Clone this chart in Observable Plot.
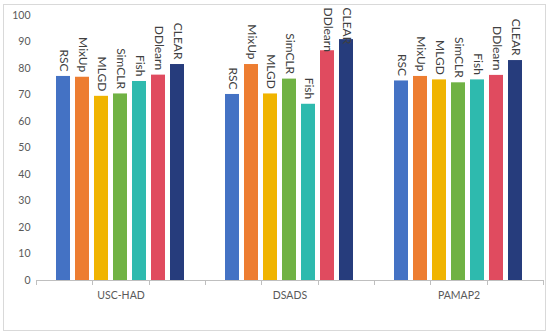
<!DOCTYPE html>
<html>
<head>
<meta charset="utf-8">
<script src="https://cdn.jsdelivr.net/npm/d3@7"></script>
<script src="https://cdn.jsdelivr.net/npm/@observablehq/plot@0.6"></script>
<style>
  body { margin: 0; background: #fff; }
  #wrap { position: relative; width: 550px; height: 336px; }
  #border { position: absolute; left: 3px; top: 4px; width: 541px; height: 325px; border: 1px solid #d9d9d9; pointer-events: none; }
</style>
</head>
<body>
<div id="wrap"><div id="border"></div></div>
<script>
const datasets = ["USC-HAD", "DSADS", "PAMAP2"];
const methods = ["RSC", "MixUp", "MLGD", "SimCLR", "Fish", "DDlearn", "CLEAR"];
const colors = ["#4472C4", "#ED7D31", "#F0B400", "#70B244", "#2EBAAE", "#E04B5F", "#263C7C"];
const uscHad = [77.0, 76.7, 69.5, 70.4, 75.1, 77.5, 81.5];
const dsads  = [70.2, 81.5, 70.4, 76.0, 66.5, 86.7, 90.9];
const pamap2 = [75.3, 77.0, 75.7, 74.6, 75.7, 77.4, 83.0];
const yTicks = d3.range(0, 101, 10);

const series = [uscHad, dsads, pamap2];
const data = datasets.flatMap((ds, i) => methods.map((m, j) => ({dataset: ds, method: m, value: series[i][j]})));
// labels that would overflow the top are pinned to the top edge (as the spreadsheet does)
const tall = d => d.value > 85;

const font = "Lato, 'Open Sans', sans-serif";

const boundaryTicks = (index, scales, values, dims) => {
  const g = d3.create("svg:g").attr("stroke", "#bfbfbf");
  const x0 = dims.marginLeft, x1 = dims.width - dims.marginRight;
  const y0 = scales.y(0);
  const n = datasets.length;
  for (let k = 0; k <= n; k++) {
    const x = Math.round(x0 + k * (x1 - x0) / n) + 0.5;
    g.append("line").attr("x1", x).attr("x2", x).attr("y1", y0).attr("y2", y0 + 5);
  }
  g.append("line").attr("x1", x0).attr("x2", x1).attr("y1", y0 + 0.5).attr("y2", y0 + 0.5);
  return g.node();
};

const labelStyle = {fx: "dataset", x: "method", text: "method", rotate: 90, lineAnchor: "middle", fontSize: 12, fontWeight: 400, fill: "#404040"};

const chart = Plot.plot({
  width: 550,
  height: 336,
  marginLeft: 36,
  marginRight: 7,
  marginTop: 15,
  marginBottom: 56,
  style: {fontFamily: font, background: "transparent"},
  fx: {domain: datasets, padding: 0, label: null, axis: null},
  x: {domain: methods, paddingInner: 0.25, paddingOuter: 1.0, axis: null},
  y: {domain: [0, 100], label: null},
  color: {domain: methods, range: colors},
  marks: [
    Plot.axisY({ticks: yTicks, tickSize: 0, tickPadding: 6, fontSize: 10.5, fill: "#595959", label: null}),
    Plot.axisFx({anchor: "bottom", tickSize: 0, tickPadding: 11, fontSize: 10.5, fill: "#595959", label: null}),
    Plot.barY(data, {fx: "dataset", x: "method", y: "value", fill: "method"}),
    Plot.text(data.filter(d => !tall(d)), {...labelStyle, y: "value", textAnchor: "end", dy: -5}),
    Plot.text(data.filter(tall), {...labelStyle, frameAnchor: "top", textAnchor: "start", dy: -8}),
    boundaryTicks
  ]
});
document.getElementById("wrap").prepend(chart);
</script>
</body>
</html>
